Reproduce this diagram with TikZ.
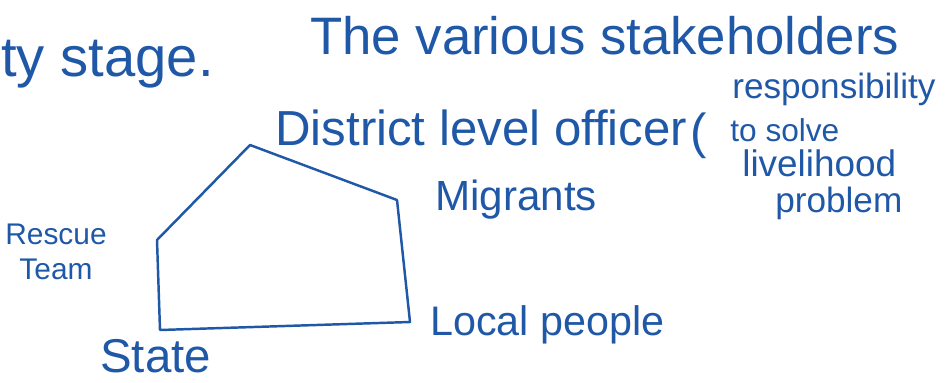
\documentclass[tikz,border=0pt]{standalone}
\usepackage{fontspec}
\setmainfont{Liberation Sans}
\usetikzlibrary{positioning}
\definecolor{ink}{RGB}{32,88,168}
\tikzset{
	hand/.style={text=ink,inner sep=0pt,anchor=base west},
	big/.style={hand,font=\fontsize{29}{32}\selectfont},
	mid/.style={hand,font=\fontsize{24}{27}\selectfont},
	small/.style={hand,font=\fontsize{20}{22}\selectfont},
	edge/.style={draw=ink,line width=1.4pt,line join=round}
}

\begin{document}
\begin{tikzpicture}[x=0.02cm,y=-0.02cm]
	\useasboundingbox (0,0) rectangle (952,382);
	% top line of the page
	\node[big,font=\fontsize{32}{34}\selectfont] (stg) at (1,76) {ty stage.};
	\node[big,font=\fontsize{30}{33}\selectfont] (var) at (310,54) {The various stakeholders};
	% the five stakeholders
	\coordinate (top) at (250,145);
	\coordinate (rtp) at (397,200);
	\coordinate (rbt) at (410,322);
	\coordinate (lbt) at (160,330);
	\coordinate (lft) at (157,240);
	\draw[edge] (lft) -- (top) -- (rtp) -- (rbt) -- (lbt) -- cycle;
	\node[big,font=\fontsize{28}{30}\selectfont] (dlo) at (275,145) {District level officer};
	\node[mid] (mig) at (435,210) {Migrants};
	\node[mid,font=\fontsize{23.5}{26}\selectfont] (loc) at (430,335) {Local people};
	\node[big,font=\fontsize{27}{30}\selectfont] (sta) at (100,372) {State};
	\node[hand,anchor=center,align=center,font=\fontsize{17}{20}\selectfont] (res) at (56,252) {Rescue\\Team};
	% note on the officer
	\node[hand,font=\fontsize{28}{30}\selectfont] (par) at (690,148) {(};
	\node[small,font=\fontsize{20}{23}\selectfont] (rsp) at (732,98) {responsibility};
	\node[small,font=\fontsize{18}{21}\selectfont] (slv) at (730,141) {to solve};
	\node[small,font=\fontsize{21}{24}\selectfont] (liv) at (742,176) {livelihood};
	\node[small] (prb) at (775,212) {problem};
\end{tikzpicture}
\end{document}
